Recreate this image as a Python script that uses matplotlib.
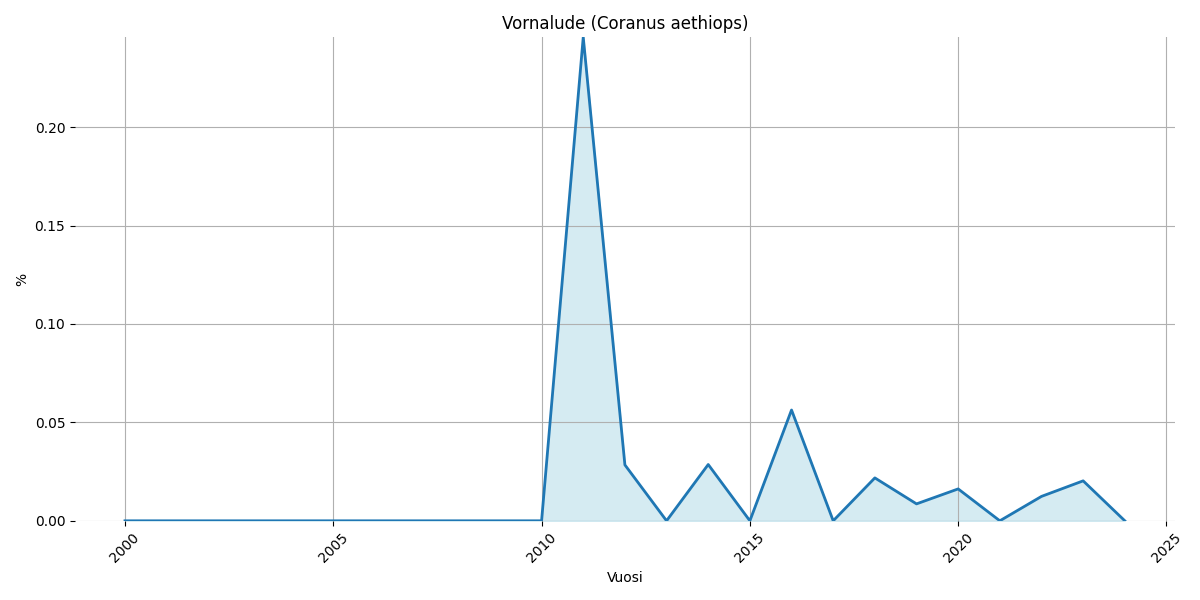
import matplotlib
matplotlib.use("Agg")
import matplotlib.pyplot as plt

years = list(range(2000, 2025))
values = [0, 0, 0, 0, 0, 0, 0, 0, 0, 0, 0,
          0.2457, 0.0284, 0.0, 0.0286, 0.0, 0.0563, 0.0, 0.0218,
          0.0086, 0.0162, 0.0, 0.0124, 0.0203, 0.0]

fig, ax = plt.subplots(figsize=(12, 6), dpi=100)
ax.fill_between(years, values, color="lightblue", alpha=0.5)
ax.plot(years, values, color="#1f77b4", linewidth=2)
ax.set_ylim(0, max(values))
ax.set_title("Vornalude (Coranus aethiops)")
ax.set_xlabel("Vuosi")
ax.set_ylabel("%")
ax.grid(True, color="#b0b0b0")
for s in ax.spines.values():
    s.set_visible(False)
plt.setp(ax.get_xticklabels(), rotation=45)
fig.subplots_adjust(left=0.0625, right=0.979, top=0.938, bottom=0.132)
fig.savefig("out.png")
